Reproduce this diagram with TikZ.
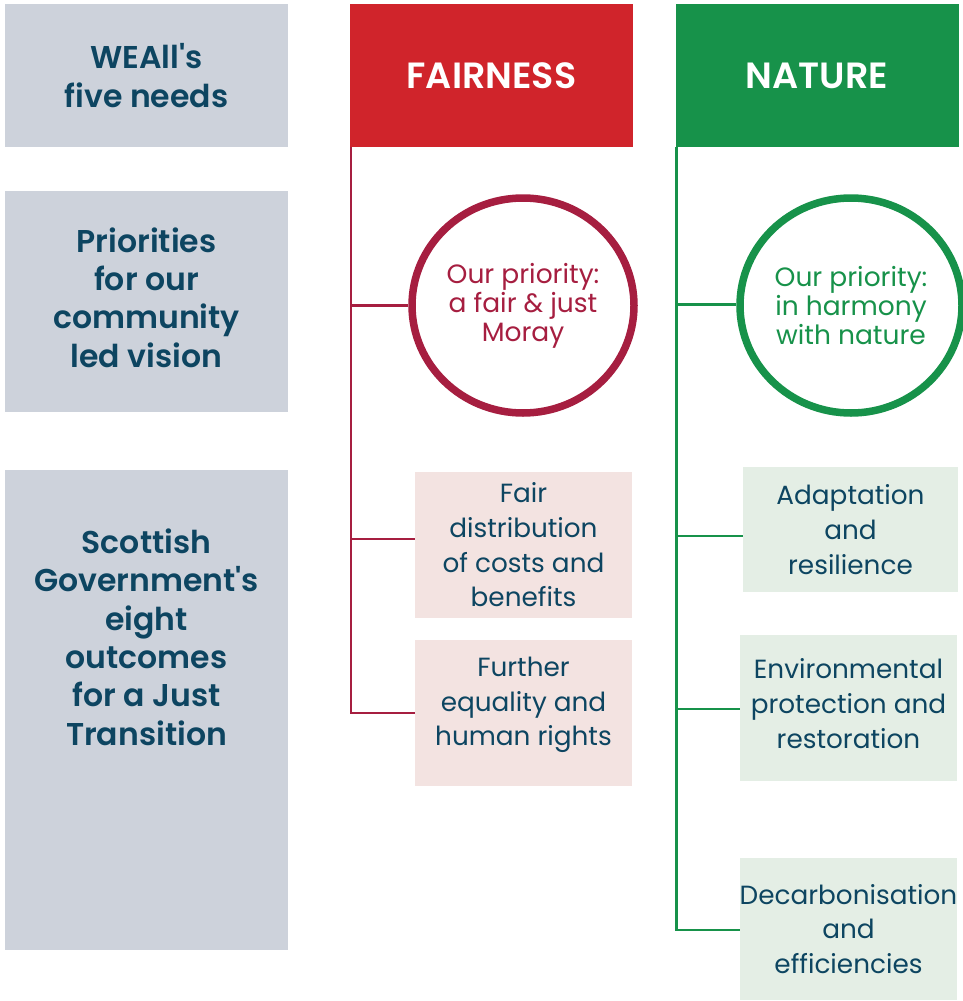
\documentclass[tikz,border=0pt]{standalone}
\usepackage{fontspec}
\setmainfont{Poppins}
\newfontfamily\popsemi{Poppins SemiBold}
\usetikzlibrary{shapes.geometric,calc}
\definecolor{grayfill}{HTML}{CDD2DB}
\definecolor{txtdark}{HTML}{0D4561}
\definecolor{hdrred}{HTML}{D0242B}
\definecolor{hdrgreen}{HTML}{17924A}
\definecolor{crimson}{HTML}{A61E40}
\definecolor{pinkfill}{HTML}{F3E3E1}
\definecolor{mintfill}{HTML}{E4EEE5}
\tikzset{
  graybox/.style={fill=grayfill, inner sep=0pt, text=txtdark, align=center, font=\popsemi\fontsize{31.5}{38.4}\selectfont},
  grayt/.style={text=txtdark, align=center, inner sep=0pt, font=\popsemi\fontsize{31.5}{38.4}\selectfont},
  header/.style={inner sep=0pt, text=white, minimum width=283pt, minimum height=143pt, font=\popsemi\fontsize{36.5}{40}\selectfont},
  prio/.style={ellipse, draw, line width=7.5pt, fill=white, inner sep=0pt, minimum width=222pt, minimum height=215pt, align=center, font=\fontsize{26.5}{29}\selectfont},
  outbox/.style={inner sep=0pt, text=txtdark, align=center, font=\fontsize{26.3}{34.7}\selectfont},
  redline/.style={draw=crimson, line width=2.6pt},
  greenline/.style={draw=hdrgreen, line width=2.6pt},
}
\begin{document}
\begin{tikzpicture}[x=1pt,y=-1pt]
\useasboundingbox (0,0) rectangle (962,1001);
% left column
\node[graybox, minimum width=283pt, minimum height=143pt] (g1) at (146.5,75.5) {WEAll's\\five needs};
\node[fill=grayfill, inner sep=0pt, minimum width=283pt, minimum height=221pt] (g2) at (146.5,301.5) {};
\node[grayt] (g2t) at (146.5,297.5) {Priorities\\for our\\community\\led vision};
\node[fill=grayfill, inner sep=0pt, minimum width=283pt, minimum height=480pt] (g3) at (146.5,710) {};
\node[grayt] (g3t) at (146.5,637) {Scottish\\Government's\\eight\\outcomes\\for a Just\\Transition};
% headers
\node[header, fill=hdrred] (fair) at (491.5,75.5) {FAIRNESS};
\node[header, fill=hdrgreen] (nat) at (817,75.5) {NATURE};
% circles
\node[prio, draw=crimson, text=crimson] (pf) at (523,305.5) {Our priority:\\a fair \& just\\Moray};
\node[prio, draw=hdrgreen, text=hdrgreen] (pn) at (851,305.5) {Our priority:\\in harmony\\with nature};
% fairness boxes
\node[outbox, fill=pinkfill, minimum width=217pt, minimum height=146pt] (fa) at (523.5,545) {Fair\\distribution\\of costs and\\benefits};
\node[fill=pinkfill, inner sep=0pt, minimum width=217pt, minimum height=146pt] (fb) at (523.5,713) {};
\node[outbox] (fbt) at (523.5,705) {Further\\equality and\\human rights};
% nature boxes
\node[outbox, fill=mintfill, minimum width=215pt, minimum height=125pt] (na) at (850.5,529.5) {Adaptation\\and\\resilience};
\node[fill=mintfill, inner sep=0pt, minimum width=217pt, minimum height=146pt] (nb) at (848.5,708) {};
\node[outbox] (nbt) at (848.5,703.5) {Environmental\\protection and\\restoration};
\node[outbox, fill=mintfill, minimum width=217pt, minimum height=142pt] (nc) at (848.5,929) {Decarbonisation\\and\\efficiencies};
% fairness connectors
\coordinate (rtop) at ([xshift=1pt]fair.south west);
\draw[redline] (rtop) |- (fb.west);
\draw[redline] (pf.west) -- (pf.west -| rtop);
\draw[redline] ([yshift=6pt]fa.west) -- ([yshift=6pt]fa.west -| rtop);
% nature connectors
\coordinate (gtop) at ([xshift=1pt]nat.south west);
\draw[greenline] (gtop) |- ([yshift=-1pt]nc.west);
\draw[greenline] ([yshift=1pt]pn.west) -- ([yshift=1pt]pn.west -| gtop);
\draw[greenline] ([yshift=-6.5pt]na.west) -- ([yshift=-6.5pt]na.west -| gtop);
\draw[greenline] ([yshift=-1pt]nb.west) -- ([yshift=-1pt]nb.west -| gtop);
\end{tikzpicture}
\end{document}
